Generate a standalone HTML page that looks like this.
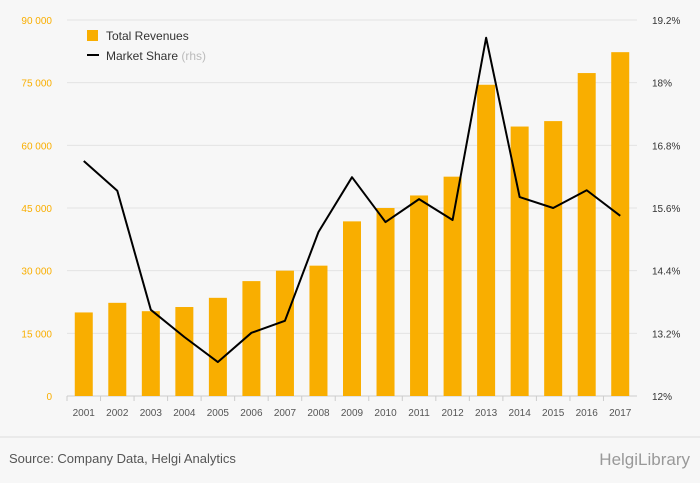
<!DOCTYPE html>
<html><head><meta charset="utf-8"><style>
body{margin:0;width:700px;height:483px;background:#f7f7f7;font-family:"Liberation Sans",sans-serif;overflow:hidden}
svg{display:block}
</style></head><body>
<svg id="c" width="700" height="483">
<rect x="0" y="0" width="700" height="483" fill="#f7f7f7"/>
<g id="grid"></g><g id="bars"></g><g id="line"></g><g id="axes"></g>
<g>
<rect x="87" y="30" width="11" height="11" fill="#f9ae00"/>
<text x="106" y="40" font-size="12" fill="#333">Total Revenues</text>
<line x1="87" y1="55" x2="99" y2="55" stroke="#000" stroke-width="2"/>
<text x="106" y="60" font-size="12" fill="#333">Market Share <tspan fill="#bbb">(rhs)</tspan></text>
</g>
<line x1="0" y1="437" x2="700" y2="437" stroke="#ddd"/>
<text x="9" y="463" font-size="13" fill="#555">Source: Company Data, Helgi Analytics</text>
<text x="690" y="465" font-size="17" fill="#999" text-anchor="end">HelgiLibrary</text>
</svg>
<script>
const categories=["2001","2002","2003","2004","2005","2006","2007","2008","2009","2010","2011","2012","2013","2014","2015","2016","2017"];
const revenues=[20000,22300,20300,21300,23500,27500,30000,31200,41800,45000,48000,52500,74500,64500,65800,77300,82300];
const marketShare=[16.5,15.93,13.65,13.13,12.65,13.21,13.44,15.14,16.19,15.33,15.77,15.37,18.86,15.81,15.6,15.94,15.45];
const leftTicks=[0,15000,30000,45000,60000,75000,90000];
const leftTickLabels=["0","15 000","30 000","45 000","60 000","75 000","90 000"];
const rightTicks=[12,13.2,14.4,15.6,16.8,18,19.2];
const rightTickLabels=["12%","13.2%","14.4%","15.6%","16.8%","18%","19.2%"];
const NS="http://www.w3.org/2000/svg";
const x0=67,x1=637,yTop=20,yBot=396;
const step=(x1-x0)/categories.length;
const xc=i=>x0+step*(i+0.5);
const yL=v=>yBot-(v/90000)*(yBot-yTop);
const yR=v=>yBot-((v-12)/7.2)*(yBot-yTop);
function mk(tag,attrs,parent,text){const e=document.createElementNS(NS,tag);for(const k in attrs)e.setAttribute(k,attrs[k]);if(text!==undefined)e.textContent=text;parent.appendChild(e);return e;}
const grid=document.getElementById('grid'),bars=document.getElementById('bars'),line=document.getElementById('line'),axes=document.getElementById('axes');
leftTicks.forEach((t,i)=>{
 const y=yL(t);
 const g=mk('line',{x1:x0,x2:x1,y1:y,y2:y,stroke:i==0?'#ccc':'#e3e3e3'},grid);
 
 
 const l=mk('text',{x:52,y:y+4,'font-size':10,fill:'#f9ae00','text-anchor':'end'},axes,leftTickLabels[i]);
 
 
});
rightTicks.forEach((t,i)=>{
 const r=mk('text',{x:652,y:yR(t)+4,'font-size':10,fill:'#333'},axes,rightTickLabels[i]);
 
 
});
categories.forEach((c,i)=>{
 const b=mk('rect',{x:xc(i)-9,y:yL(revenues[i]),width:18,height:yBot-yL(revenues[i]),fill:'#f9ae00'},bars);
 
 
 const t=mk('text',{x:xc(i),y:416,'font-size':10,fill:'#555','text-anchor':'middle'},axes,c);
 
 
 const tk=mk('line',{x1:x0+step*i,x2:x0+step*i,y1:yBot,y2:yBot+5,stroke:'#ccc'},axes);
 
 
});
const p=mk('polyline',{points:marketShare.map((v,i)=>xc(i)+','+yR(v)).join(' '),fill:'none',stroke:'#000','stroke-width':2,'stroke-linejoin':'round'},line);


</script>
</body></html>
